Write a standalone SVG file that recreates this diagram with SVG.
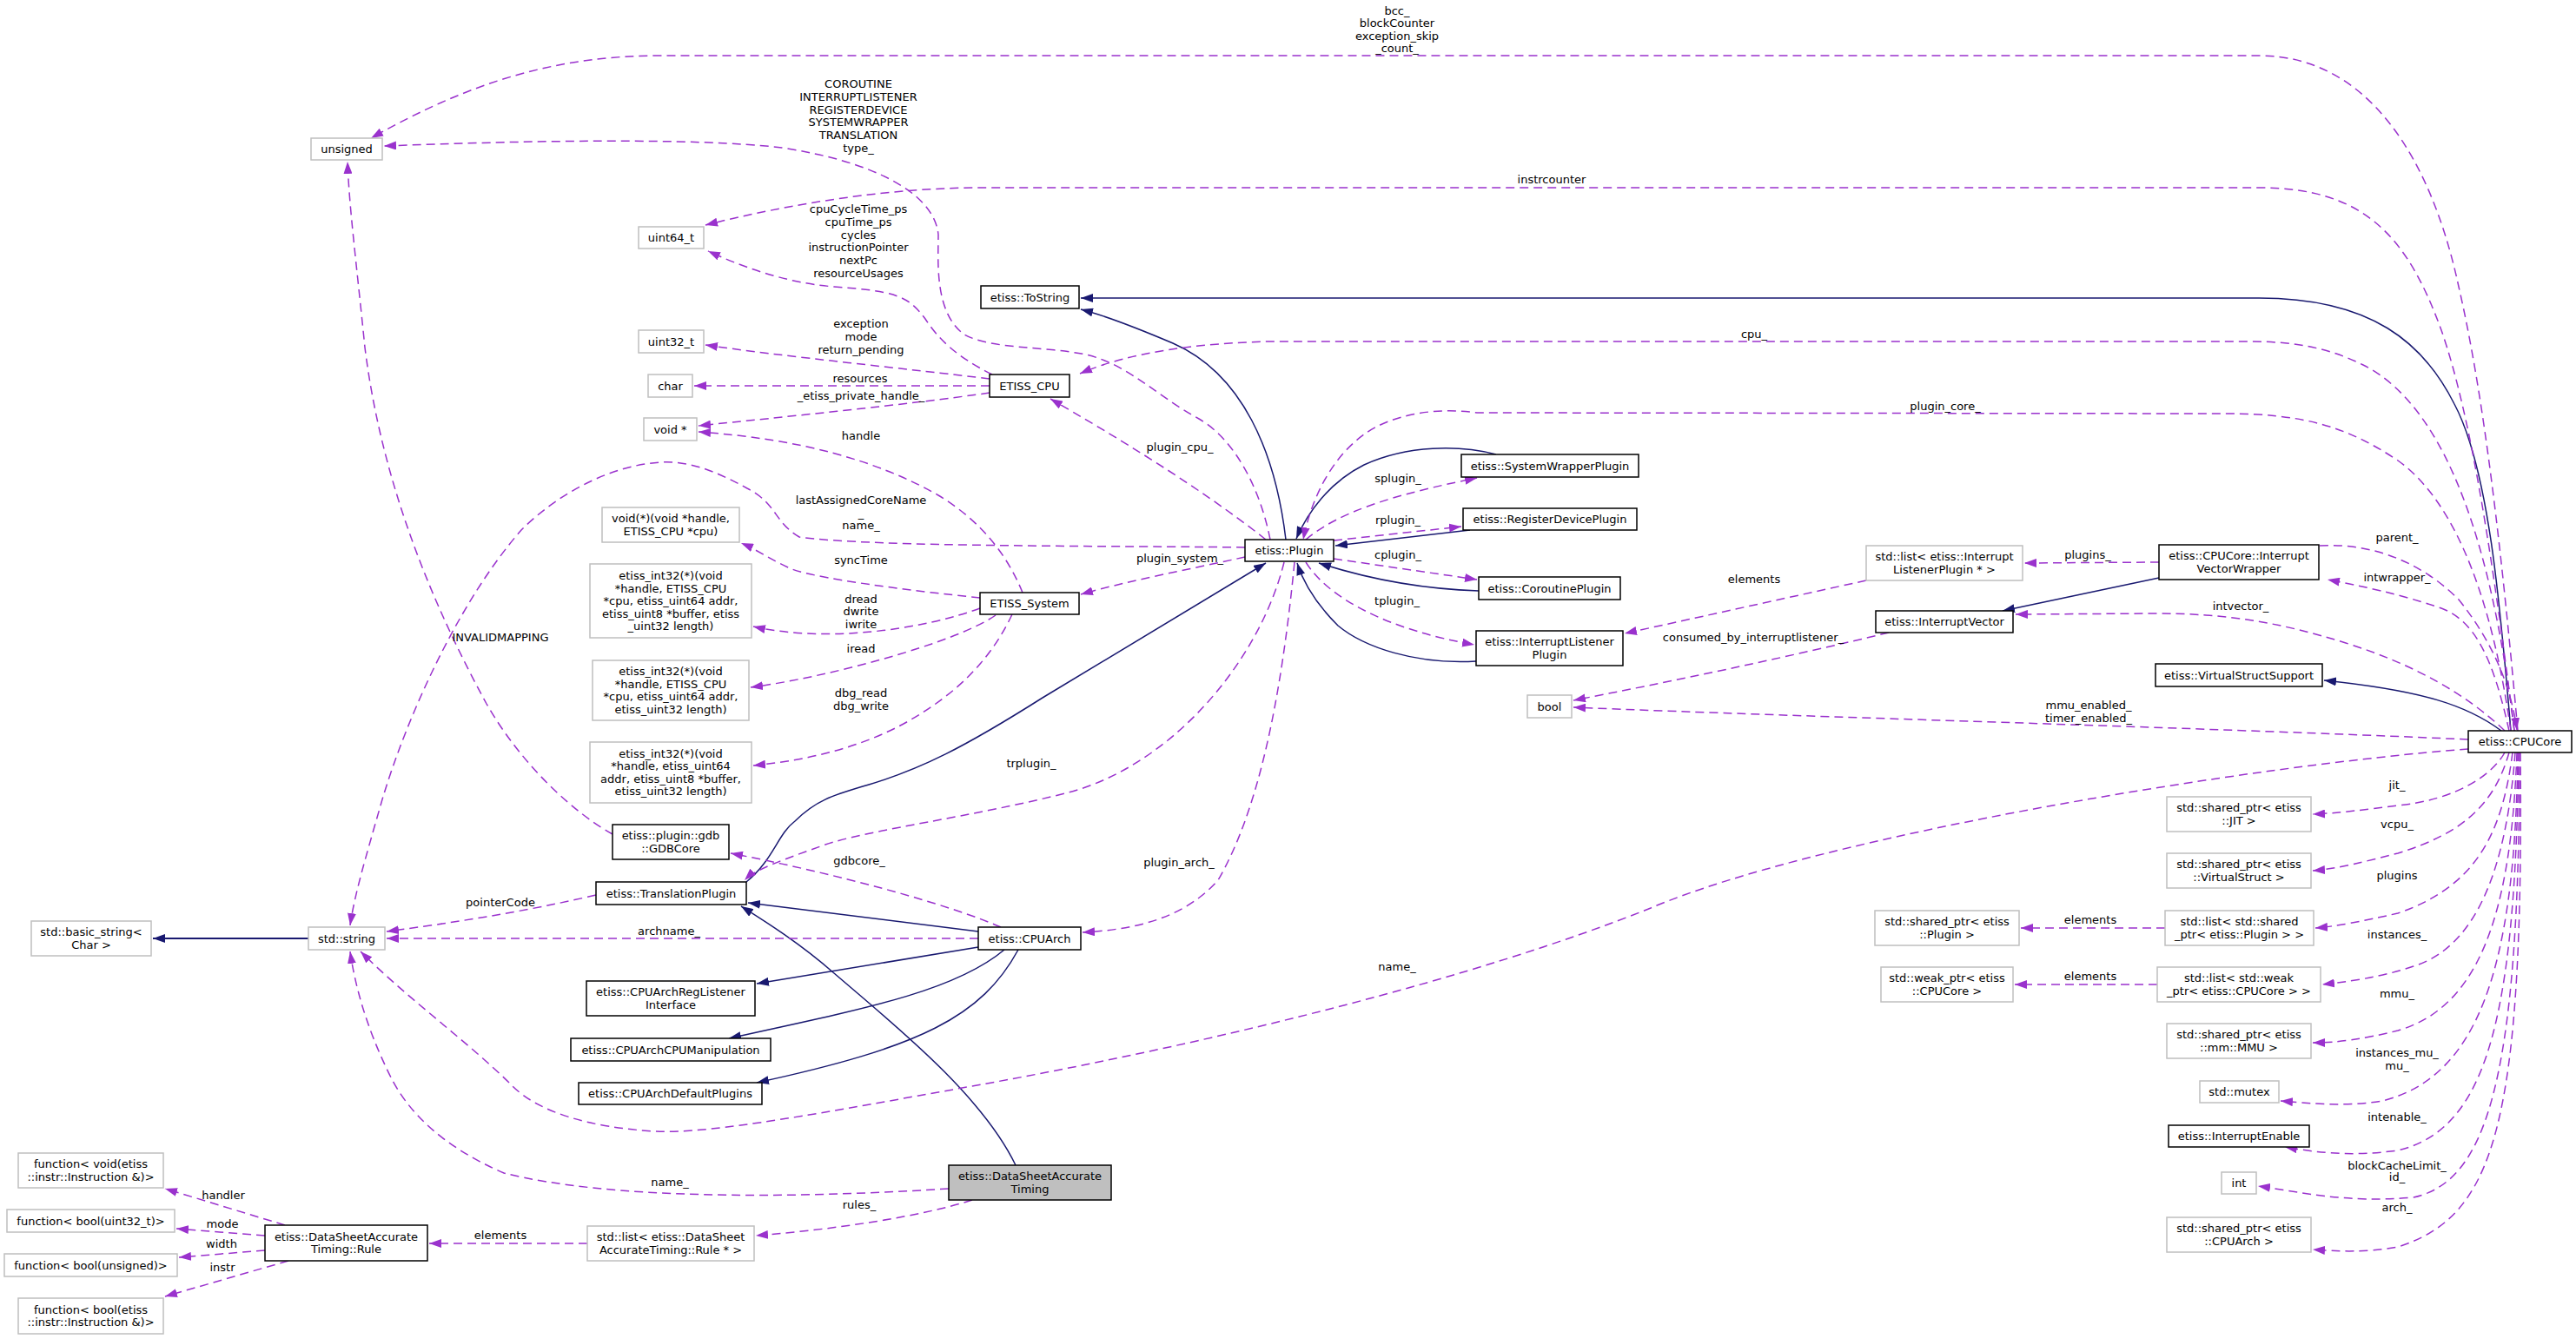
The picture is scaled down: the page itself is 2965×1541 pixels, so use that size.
<svg xmlns="http://www.w3.org/2000/svg" width="2965" height="1541" viewBox="0 0 2965 1541">
<style>
text{font-family:"DejaVu Sans","Liberation Sans",sans-serif;font-size:13px;fill:#000;text-anchor:middle}
.n rect{fill:#fff;stroke-width:1.5}
.g rect{stroke:#bfbfbf}
.b rect{stroke:#000}
.hl rect{fill:#bfbfbf}
.d{fill:none;stroke:#9a32cd;stroke-width:1.5;stroke-dasharray:10,6;marker-end:url(#ap)}
.s{fill:none;stroke:#191970;stroke-width:1.5;marker-end:url(#ab)}
</style>
<defs>
<marker id="ap" markerUnits="userSpaceOnUse" markerWidth="14" markerHeight="10" refX="14" refY="5" orient="auto"><path d="M0,0 L14,5 L0,10 z" fill="#9a32cd"/></marker>
<marker id="ab" markerUnits="userSpaceOnUse" markerWidth="14" markerHeight="10" refX="14" refY="5" orient="auto"><path d="M0,0 L14,5 L0,10 z" fill="#191970"/></marker>
</defs>
<rect width="2965" height="1541" fill="#fff"/>
<g id="connectors">
<!-- inheritance -->
<path class="s" d="M1480,621 C1468,520 1430,430 1350,395 C1310,378 1275,364 1244,356"/>
<path class="s" d="M2890,841 C2878,700 2865,540 2825,465 C2790,395 2730,343 2600,343 L1244,343"/>
<path class="s" d="M1722,523 C1680,512 1620,512 1570,535 C1530,555 1505,590 1492,620"/>
<path class="s" d="M1692,610 L1537,628"/>
<path class="s" d="M1702,680 C1640,678 1580,668 1518,648"/>
<path class="s" d="M1699,761 C1630,765 1570,745 1540,720 C1515,695 1500,670 1493,648"/>
<path class="s" d="M859,1015 C890,990 895,960 915,945 C940,920 960,915 1000,903 C1060,885 1110,860 1200,803 L1457,648"/>
<path class="s" d="M1126,1072 L861,1039"/>
<path class="s" d="M1126,1090 L871,1132"/>
<path class="s" d="M1156,1093 C1100,1140 1000,1160 839,1195"/>
<path class="s" d="M1172,1093 C1130,1170 1060,1205 871,1246"/>
<path class="s" d="M1169,1341 C1130,1260 1030,1180 960,1120 C920,1085 880,1060 853,1043"/>
<path class="s" style="stroke-width:2" d="M355,1080 L176,1080"/>
<path class="s" d="M2485,665 L2305,703"/>
<path class="s" d="M2879,841 C2840,812 2790,795 2675,783"/>
<!-- collaboration -->
<path class="d" d="M2898,841 C2880,640 2860,460 2830,330 C2800,190 2730,64 2600,64 L760,64 C640,64 540,95 427,159"/>
<path class="d" d="M2894,841 C2870,650 2845,480 2810,380 C2770,270 2720,216 2600,216 L1130,216 C1030,216 920,232 812,259"/>
<path class="d" d="M2894,841 C2870,640 2820,470 2720,420 C2680,400 2640,393 2590,393 L1460,393 C1380,395 1300,405 1243,430"/>
<path class="d" d="M2890,841 C2870,700 2830,580 2760,530 C2700,490 2650,476 2560,476 L1700,475 C1650,468 1600,478 1570,500 C1535,525 1510,570 1500,621"/>
<path class="d" d="M2670,628 C2720,625 2780,640 2830,690 C2870,740 2890,790 2897,840"/>
<path class="d" d="M2888,841 C2870,760 2850,715 2810,700 C2760,683 2720,675 2679,667"/>
<path class="d" d="M2883,841 C2840,800 2780,765 2700,740 C2620,715 2560,706 2480,706 L2320,707"/>
<path class="d" d="M2841,851 C2500,836 2100,826 1811,814"/>
<path class="d" d="M2174,728 C2050,758 1920,785 1811,806"/>
<path class="d" d="M2485,647 L2330,648"/>
<path class="d" d="M2148,668 L1870,729"/>
<path class="d" d="M2841,862 C2600,880 2100,960 1900,1045 C1700,1125 1400,1200 1119,1250 C950,1280 820,1305 755,1302 C680,1298 620,1280 590,1250 C540,1200 470,1150 415,1095"/>
<path class="d" d="M1126,1080 L445,1080"/>
<path class="d" d="M1152,1067 C1090,1040 960,1005 841,982"/>
<path class="d" d="M705,960 C660,935 600,880 560,810 C500,700 440,560 420,400 C410,300 402,240 400,186"/>
<path class="d" d="M1433,630 C1300,628 1000,630 920,618 C890,600 895,580 860,562 C820,540 790,530 760,532 C700,536 640,570 600,610 C530,690 470,820 440,920 C420,990 408,1030 403,1065"/>
<path class="d" d="M686,1030 C600,1050 520,1062 445,1072"/>
<path class="d" d="M1462,621 C1450,560 1420,505 1380,482 C1330,455 1300,420 1250,408 C1200,398 1140,402 1110,385 C1075,360 1080,300 1080,270 C1075,220 1000,185 900,170 C800,158 600,162 442,168"/>
<path class="d" d="M1142,431 C1100,410 1080,390 1065,367 C1045,340 1030,335 960,330 C900,325 850,305 815,289"/>
<path class="d" d="M1139,436 C1050,425 900,410 812,397"/>
<path class="d" d="M1139,444 L799,444"/>
<path class="d" d="M1139,452 C1050,465 900,480 804,490"/>
<path class="d" d="M1177,682 C1160,640 1130,600 1080,570 C1010,530 920,505 804,497"/>
<path class="d" d="M1128,688 C1050,680 930,665 907,653 C880,640 870,632 853,625"/>
<path class="d" d="M1128,700 C1060,725 950,740 867,721"/>
<path class="d" d="M1146,708 C1100,740 950,780 864,791"/>
<path class="d" d="M1165,707 C1140,760 1100,800 1040,833 C990,860 930,875 867,881"/>
<path class="d" d="M1457,621 C1380,560 1280,500 1209,459"/>
<path class="d" d="M1433,641 C1370,655 1300,668 1244,684"/>
<path class="d" d="M1503,621 C1540,590 1600,570 1700,550"/>
<path class="d" d="M1535,622 L1682,606"/>
<path class="d" d="M1535,643 L1700,667"/>
<path class="d" d="M1503,647 C1530,690 1600,725 1697,742"/>
<path class="d" d="M1478,647 C1450,760 1350,880 1230,912 C1120,940 1000,955 950,972 C900,990 870,1000 857,1013"/>
<path class="d" d="M1490,647 C1475,800 1450,930 1402,1013 C1360,1060 1300,1070 1246,1073"/>
<path class="d" d="M1092,1368 C900,1380 700,1380 580,1350 C510,1320 470,1280 450,1240 C420,1180 408,1130 403,1095"/>
<path class="d" d="M1119,1381 C1060,1400 960,1415 870,1422"/>
<path class="d" d="M676,1431 L494,1431"/>
<path class="d" d="M328,1410 L190,1368"/>
<path class="d" d="M305,1422 L203,1414"/>
<path class="d" d="M305,1439 L206,1447"/>
<path class="d" d="M332,1451 L190,1492"/>
<path class="d" d="M2883,866 C2870,890 2830,920 2760,927 C2720,932 2690,936 2662,937"/>
<path class="d" d="M2888,866 C2870,930 2830,960 2760,982 C2720,992 2690,1000 2662,1002"/>
<path class="d" d="M2892,866 C2880,960 2850,1020 2760,1051 C2720,1060 2690,1066 2665,1068"/>
<path class="d" d="M2895,866 C2885,1000 2850,1090 2778,1112 C2740,1125 2700,1130 2673,1133"/>
<path class="d" d="M2897,866 C2890,1060 2850,1160 2760,1186 C2720,1196 2690,1200 2662,1200"/>
<path class="d" d="M2898,866 C2895,1120 2850,1240 2742,1267 C2700,1274 2660,1270 2625,1267"/>
<path class="d" d="M2899,866 C2895,1180 2860,1300 2760,1324 C2700,1332 2660,1325 2630,1320"/>
<path class="d" d="M2900,866 C2900,1250 2860,1360 2778,1378 C2700,1385 2650,1372 2599,1365"/>
<path class="d" d="M2901,866 C2905,1300 2870,1400 2760,1435 C2720,1442 2690,1440 2662,1438"/>
<path class="d" d="M2492,1068 L2326,1068"/>
<path class="d" d="M2483,1133 L2319,1133"/>
<!-- labels -->
<text x="1608" y="17">bcc_</text><text x="1608" y="31">blockCounter</text><text x="1608" y="46">exception_skip</text><text x="1608" y="60">_count_</text>
<text x="1786" y="211">instrcounter</text>
<text x="2019" y="389">cpu_</text>
<text x="2239" y="472">plugin_core_</text>
<text x="988" y="101">COROUTINE</text><text x="988" y="116">INTERRUPTLISTENER</text><text x="988" y="131">REGISTERDEVICE</text><text x="988" y="145">SYSTEMWRAPPER</text><text x="988" y="160">TRANSLATION</text><text x="988" y="175">type_</text>
<text x="988" y="245">cpuCycleTime_ps</text><text x="988" y="260">cpuTime_ps</text><text x="988" y="275">cycles</text><text x="988" y="289">instructionPointer</text><text x="988" y="304">nextPc</text><text x="988" y="319">resourceUsages</text>
<text x="991" y="377">exception</text><text x="991" y="392">mode</text><text x="991" y="407">return_pending</text>
<text x="990" y="440">resources</text>
<text x="991" y="460">_etiss_private_handle_</text>
<text x="991" y="506">handle</text>
<text x="991" y="580">lastAssignedCoreName</text><text x="991" y="595">_</text><text x="991" y="609">name_</text>
<text x="991" y="649">syncTime</text>
<text x="991" y="694">dread</text><text x="991" y="708">dwrite</text><text x="991" y="723">iwrite</text>
<text x="991" y="751">iread</text>
<text x="991" y="802">dbg_read</text><text x="991" y="817">dbg_write</text>
<text x="576" y="738">INVALIDMAPPING</text>
<text x="1187" y="883">trplugin_</text>
<text x="989" y="995">gdbcore_</text>
<text x="576" y="1043">pointerCode</text>
<text x="770" y="1076">archname_</text>
<text x="1357" y="997">plugin_arch_</text>
<text x="1608" y="1117">name_</text>
<text x="771" y="1365">name_</text>
<text x="989" y="1391">rules_</text>
<text x="576" y="1426">elements</text>
<text x="257" y="1380">handler</text>
<text x="256" y="1413">mode</text>
<text x="255" y="1436">width</text>
<text x="256" y="1463">instr</text>
<text x="1358" y="519">plugin_cpu_</text>
<text x="1358" y="647">plugin_system_</text>
<text x="1609" y="555">splugin_</text>
<text x="1609" y="603">rplugin_</text>
<text x="1609" y="643">cplugin_</text>
<text x="1608" y="696">tplugin_</text>
<text x="2019" y="671">elements</text>
<text x="2403" y="643">plugins_</text>
<text x="2018" y="738">consumed_by_interruptlistener_</text>
<text x="2404" y="816">mmu_enabled_</text><text x="2404" y="831">timer_enabled_</text>
<text x="2759" y="623">parent_</text>
<text x="2759" y="669">intwrapper_</text>
<text x="2579" y="702">intvector_</text>
<text x="2759" y="908">jit_</text>
<text x="2759" y="953">vcpu_</text>
<text x="2759" y="1012">plugins</text>
<text x="2759" y="1080">instances_</text>
<text x="2759" y="1148">mmu_</text>
<text x="2759" y="1216">instances_mu_</text><text x="2759" y="1231">mu_</text>
<text x="2759" y="1290">intenable_</text>
<text x="2759" y="1346">blockCacheLimit_</text><text x="2759" y="1359">id_</text>
<text x="2759" y="1394">arch_</text>
<text x="2406" y="1063">elements</text>
<text x="2406" y="1128">elements</text>
</g>
<g id="node-unsigned" class="n g"><rect x="358" y="159" width="82" height="25"/><text x="399" y="176">unsigned</text></g>
<g id="node-uint64" class="n g"><rect x="735" y="261" width="75" height="25"/><text x="772.5" y="278">uint64_t</text></g>
<g id="node-uint32" class="n g"><rect x="735" y="380" width="75" height="26"/><text x="772.5" y="397.5">uint32_t</text></g>
<g id="node-char" class="n g"><rect x="746" y="431" width="51" height="26"/><text x="771.5" y="448.5">char</text></g>
<g id="node-voidptr" class="n g"><rect x="741" y="481" width="61" height="26"/><text x="771.5" y="498.5">void *</text></g>
<g id="node-synctype" class="n g"><rect x="693" y="584" width="158" height="40"/><text x="772" y="601">void(*)(void *handle,</text><text x="772" y="616">ETISS_CPU *cpu)</text></g>
<g id="node-rwtype" class="n g"><rect x="679" y="649" width="186" height="85"/><text x="772" y="667">etiss_int32(*)(void</text><text x="772" y="681.5">*handle, ETISS_CPU</text><text x="772" y="696">*cpu, etiss_uint64 addr,</text><text x="772" y="710.5">etiss_uint8 *buffer, etiss</text><text x="772" y="725">_uint32 length)</text></g>
<g id="node-ireadtype" class="n g"><rect x="682" y="760" width="180" height="69"/><text x="772" y="777">etiss_int32(*)(void</text><text x="772" y="791.5">*handle, ETISS_CPU</text><text x="772" y="806">*cpu, etiss_uint64 addr,</text><text x="772" y="820.5">etiss_uint32 length)</text></g>
<g id="node-dbgtype" class="n g"><rect x="679" y="854" width="186" height="70"/><text x="772" y="871.75">etiss_int32(*)(void</text><text x="772" y="886.25">*handle, etiss_uint64</text><text x="772" y="900.75">addr, etiss_uint8 *buffer,</text><text x="772" y="915.25">etiss_uint32 length)</text></g>
<g id="node-gdbcore" class="n b"><rect x="705" y="949" width="134" height="40"/><text x="772" y="966.25">etiss::plugin::gdb</text><text x="772" y="980.75">::GDBCore</text></g>
<g id="node-translationplugin" class="n b"><rect x="686" y="1015" width="173" height="26"/><text x="772.5" y="1032.5">etiss::TranslationPlugin</text></g>
<g id="node-basicstring" class="n g"><rect x="36" y="1060" width="138" height="40"/><text x="105" y="1077.25">std::basic_string&lt;</text><text x="105" y="1091.75">Char &gt;</text></g>
<g id="node-string" class="n g"><rect x="355" y="1067" width="88" height="26"/><text x="399" y="1084.5">std::string</text></g>
<g id="node-cpuarch" class="n b"><rect x="1126" y="1067" width="118" height="26"/><text x="1185" y="1084.5">etiss::CPUArch</text></g>
<g id="node-reglistener" class="n b"><rect x="675" y="1129" width="194" height="40"/><text x="772" y="1146.25">etiss::CPUArchRegListener</text><text x="772" y="1160.75">Interface</text></g>
<g id="node-cpumanip" class="n b"><rect x="657" y="1195" width="230" height="26"/><text x="772" y="1212.5">etiss::CPUArchCPUManipulation</text></g>
<g id="node-defaultplugins" class="n b"><rect x="666" y="1246" width="211" height="25"/><text x="771.5" y="1263">etiss::CPUArchDefaultPlugins</text></g>
<g id="node-fnhandler" class="n g"><rect x="21" y="1327" width="167" height="40"/><text x="104.5" y="1344.25">function&lt; void(etiss</text><text x="104.5" y="1358.75">::instr::Instruction &amp;)&gt;</text></g>
<g id="node-fnmode" class="n g"><rect x="8" y="1392" width="193" height="26"/><text x="104.5" y="1409.5">function&lt; bool(uint32_t)&gt;</text></g>
<g id="node-fnwidth" class="n g"><rect x="5" y="1443" width="199" height="26"/><text x="104.5" y="1460.5">function&lt; bool(unsigned)&gt;</text></g>
<g id="node-fninstr" class="n g"><rect x="21" y="1494" width="167" height="41"/><text x="104.5" y="1511.75">function&lt; bool(etiss</text><text x="104.5" y="1526.25">::instr::Instruction &amp;)&gt;</text></g>
<g id="node-rule" class="n b"><rect x="305" y="1410" width="187" height="41"/><text x="398.5" y="1427.75">etiss::DataSheetAccurate</text><text x="398.5" y="1442.25">Timing::Rule</text></g>
<g id="node-rulelist" class="n g"><rect x="676" y="1411" width="192" height="40"/><text x="772" y="1428.25">std::list&lt; etiss::DataSheet</text><text x="772" y="1442.75">AccurateTiming::Rule * &gt;</text></g>
<g id="node-dsat" class="n b hl"><rect x="1092" y="1341" width="187" height="40"/><text x="1185.5" y="1358.25">etiss::DataSheetAccurate</text><text x="1185.5" y="1372.75">Timing</text></g>
<g id="node-tostring" class="n b"><rect x="1129" y="329" width="113" height="26"/><text x="1185.5" y="346.5">etiss::ToString</text></g>
<g id="node-etisscpu" class="n b"><rect x="1139" y="431" width="92" height="26"/><text x="1185" y="448.5">ETISS_CPU</text></g>
<g id="node-etisssystem" class="n b"><rect x="1128" y="682" width="114" height="25"/><text x="1185" y="699">ETISS_System</text></g>
<g id="node-plugin" class="n b"><rect x="1433" y="621" width="102" height="25"/><text x="1484" y="638">etiss::Plugin</text></g>
<g id="node-swp" class="n b"><rect x="1682" y="523" width="204" height="26"/><text x="1784" y="540.5">etiss::SystemWrapperPlugin</text></g>
<g id="node-rdp" class="n b"><rect x="1684" y="585" width="200" height="25"/><text x="1784" y="602">etiss::RegisterDevicePlugin</text></g>
<g id="node-cp" class="n b"><rect x="1702" y="664" width="163" height="26"/><text x="1783.5" y="681.5">etiss::CoroutinePlugin</text></g>
<g id="node-ilp" class="n b"><rect x="1699" y="726" width="169" height="40"/><text x="1783.5" y="743.25">etiss::InterruptListener</text><text x="1783.5" y="757.75">Plugin</text></g>
<g id="node-bool" class="n g"><rect x="1758" y="800" width="51" height="26"/><text x="1783.5" y="817.5">bool</text></g>
<g id="node-ilplist" class="n g"><rect x="2148" y="628" width="180" height="40"/><text x="2238" y="645.25">std::list&lt; etiss::Interrupt</text><text x="2238" y="659.75">ListenerPlugin * &gt;</text></g>
<g id="node-interruptvector" class="n b"><rect x="2159" y="703" width="158" height="25"/><text x="2238" y="720">etiss::InterruptVector</text></g>
<g id="node-ivw" class="n b"><rect x="2485" y="627" width="184" height="40"/><text x="2577" y="644.25">etiss::CPUCore::Interrupt</text><text x="2577" y="658.75">VectorWrapper</text></g>
<g id="node-vss" class="n b"><rect x="2481" y="764" width="192" height="26"/><text x="2577" y="781.5">etiss::VirtualStructSupport</text></g>
<g id="node-cpucore" class="n b"><rect x="2841" y="841" width="119" height="25"/><text x="2900.5" y="858">etiss::CPUCore</text></g>
<g id="node-jit" class="n g"><rect x="2494" y="917" width="166" height="40"/><text x="2577" y="934.25">std::shared_ptr&lt; etiss</text><text x="2577" y="948.75">::JIT &gt;</text></g>
<g id="node-vstruct" class="n g"><rect x="2494" y="982" width="166" height="40"/><text x="2577" y="999.25">std::shared_ptr&lt; etiss</text><text x="2577" y="1013.75">::VirtualStruct &gt;</text></g>
<g id="node-pluginlist" class="n g"><rect x="2492" y="1048" width="171" height="40"/><text x="2577.5" y="1065.25">std::list&lt; std::shared</text><text x="2577.5" y="1079.75">_ptr&lt; etiss::Plugin &gt; &gt;</text></g>
<g id="node-weaklist" class="n g"><rect x="2483" y="1113" width="188" height="40"/><text x="2577" y="1130.25">std::list&lt; std::weak</text><text x="2577" y="1144.75">_ptr&lt; etiss::CPUCore &gt; &gt;</text></g>
<g id="node-mmu" class="n g"><rect x="2494" y="1178" width="166" height="40"/><text x="2577" y="1195.25">std::shared_ptr&lt; etiss</text><text x="2577" y="1209.75">::mm::MMU &gt;</text></g>
<g id="node-mutex" class="n g"><rect x="2532" y="1244" width="91" height="25"/><text x="2577.5" y="1261">std::mutex</text></g>
<g id="node-interruptenable" class="n b"><rect x="2496" y="1295" width="162" height="25"/><text x="2577" y="1312">etiss::InterruptEnable</text></g>
<g id="node-int" class="n g"><rect x="2557" y="1349" width="40" height="25"/><text x="2577" y="1366">int</text></g>
<g id="node-archptr" class="n g"><rect x="2494" y="1401" width="166" height="40"/><text x="2577" y="1418.25">std::shared_ptr&lt; etiss</text><text x="2577" y="1432.75">::CPUArch &gt;</text></g>
<g id="node-pluginptr" class="n g"><rect x="2158" y="1048" width="166" height="40"/><text x="2241" y="1065.25">std::shared_ptr&lt; etiss</text><text x="2241" y="1079.75">::Plugin &gt;</text></g>
<g id="node-coreweakptr" class="n g"><rect x="2165" y="1113" width="152" height="40"/><text x="2241" y="1130.25">std::weak_ptr&lt; etiss</text><text x="2241" y="1144.75">::CPUCore &gt;</text></g>
</svg>
